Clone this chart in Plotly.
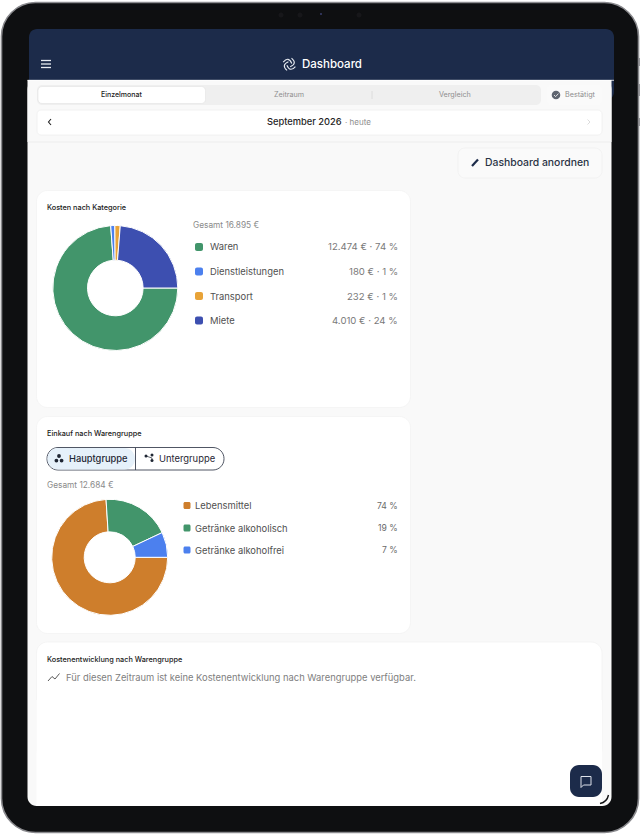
import math

import plotly.graph_objects as go

W = 640
H = 834

# chart data
kategorie_labels = ['Waren', 'Dienstleistungen', 'Transport', 'Miete']
kategorie_values = [12474, 180, 232, 4010]
kategorie_text = ['12.474 € · 74 %', '180 € · 1 %', '232 € · 1 %', '4.010 € · 24 %']
kategorie_colors = ['#42956B', '#4C80EE', '#E8A338', '#3D4FB0']
kategorie_total = 'Gesamt 16.895 €'

gruppe_labels = ['Lebensmittel', 'Getränke alkoholisch', 'Getränke alkoholfrei']
gruppe_values = [74, 19, 7]
gruppe_text = ['74 %', '19 %', '7 %']
gruppe_colors = ['#CE7E2C', '#42956B', '#4C80EE']
gruppe_total = 'Gesamt 12.684 €'

modus_labels = ['Einzelmonat', 'Zeitraum', 'Vergleich']

NAVY = '#1C2B4A'
FONT = 'Inter'


def fx(x):
    return x / W


def fy(y):
    return 1 - y / H


def pt(x, y):
    return f'{fx(x)},{fy(y)}'


def rounded(x0, y0, x1, y1, r, fill, line=None, width=1):
    # rounded box as a path, paper coordinates
    k = r * 0.45
    path = (
        f'M{pt(x0 + r, y0)} L{pt(x1 - r, y0)} C{pt(x1 - k, y0)} {pt(x1, y0 + k)} {pt(x1, y0 + r)} '
        f'L{pt(x1, y1 - r)} C{pt(x1, y1 - k)} {pt(x1 - k, y1)} {pt(x1 - r, y1)} '
        f'L{pt(x0 + r, y1)} C{pt(x0 + k, y1)} {pt(x0, y1 - k)} {pt(x0, y1 - r)} '
        f'L{pt(x0, y0 + r)} C{pt(x0, y0 + k)} {pt(x0 + k, y0)} {pt(x0 + r, y0)} Z'
    )
    return dict(type='path', xref='paper', yref='paper', path=path, fillcolor=fill, layer='below',
                line=dict(color=line if line else 'rgba(0,0,0,0)', width=width if line else 0))


def polyline(points, color, width=1.2, fill=None):
    path = 'M' + ' L'.join(pt(x, y) for x, y in points)
    if fill:
        path += ' Z'
    return dict(type='path', xref='paper', yref='paper', path=path, layer='below',
                fillcolor=fill if fill else 'rgba(0,0,0,0)', line=dict(color=color, width=width))


def curve(start, ctrl, end, color, width=1.1):
    path = f'M{pt(*start)} Q{pt(*ctrl)} {pt(*end)}'
    return dict(type='path', xref='paper', yref='paper', path=path, layer='below',
                fillcolor='rgba(0,0,0,0)', line=dict(color=color, width=width))


def dot(cx, cy, r, fill):
    return dict(type='circle', xref='paper', yref='paper', x0=fx(cx - r), x1=fx(cx + r),
                y0=fy(cy + r), y1=fy(cy - r), fillcolor=fill, layer='below', line=dict(width=0))


def label(x, y, text, size, color, anchor='left', weight=400):
    return dict(xref='paper', yref='paper', x=fx(x), y=fy(y), text=text, showarrow=False,
                xanchor=anchor, yanchor='middle', align=anchor, borderpad=0, borderwidth=0,
                font=dict(family=FONT, size=size, color=color, weight=weight))


def donut(values, labels, colors, cx, cy, r, hole):
    return go.Pie(values=values, labels=labels, sort=False, direction='clockwise', rotation=90,
                  hole=hole, textinfo='none', hoverinfo='label+percent', showlegend=False,
                  marker=dict(colors=colors, line=dict(color='#FFFFFF', width=1)),
                  domain=dict(x=[fx(cx - r), fx(cx + r)], y=[fy(cy + r), fy(cy - r)]))


shapes = []
notes = []

# tablet frame, side buttons first
for y0, y1 in [(58, 66), (84, 96), (118, 126)]:
    shapes.append(rounded(636, y0, 640, y1, 0, '#9A9A9E'))
shapes.append(rounded(1.5, 2.5, 638.5, 832.5, 34, '#0E0F11', '#8A8A8E', 1.6))
for cx, r in [(281, 2.5), (300, 2.5), (359, 2.5)]:
    shapes.append(dot(cx, 15, r, '#17171A'))
shapes.append(dot(321, 14, 1, '#3A3F6E'))

# screen and top bar
shapes.append(rounded(29, 29, 614, 100, 8, NAVY))
shapes.append(rounded(27.5, 80, 611.5, 806, 9, '#F9F9F9'))
shapes.append(rounded(27.5, 80, 611.5, 142, 0, '#F9F9F9'))
shapes.append(polyline([(27.5, 80.3), (614, 80.3)], '#FFFFFF', 0.8))
shapes.append(polyline([(28, 142), (611, 142)], '#EDEDED', 1))

# menu icon and logo
for y in [60.5, 64, 67.5]:
    shapes.append(polyline([(41, y), (51, y)], '#E8ECF2', 1.3))
for i in range(4):
    a = math.radians(i * 90 + 20)
    b = a + math.radians(65)
    c = a + math.radians(140)
    shapes.append(curve((289.3 + 6.5 * math.cos(a), 64.3 + 6.5 * math.sin(a)),
                        (289.3 + 8.4 * math.cos(b), 64.3 + 8.4 * math.sin(b)),
                        (289.3 + 2.6 * math.cos(c), 64.3 + 2.6 * math.sin(c)), '#E8ECF2'))
notes.append(label(302, 64, 'Dashboard', 11.5, '#FFFFFF', weight=500))

# period switch
shapes.append(rounded(37, 85, 541, 105, 5, '#EFEFEF'))
shapes.append(rounded(38, 86.5, 205.5, 103.5, 4, '#FFFFFF', '#E2E2E2', 0.6))
shapes.append(polyline([(372, 91), (372, 99)], '#D8D8D8', 0.8))
notes.append(label(122, 94.5, modus_labels[0], 7, '#222222', 'center', 500))
notes.append(label(288.5, 94.5, modus_labels[1], 7.2, '#8E8E8E', 'center'))
notes.append(label(455, 94.5, modus_labels[2], 7.2, '#8E8E8E', 'center'))
shapes.append(rounded(547, 85, 602, 105, 5, '#FAFAFA'))
shapes.append(dot(556, 95, 4.3, '#5F6570'))
shapes.append(polyline([(554, 95), (555.6, 96.6), (558.4, 93.6)], '#FFFFFF', 0.8))
notes.append(label(565, 94.5, 'Bestätigt', 7.2, '#8E8E8E'))

# month row
shapes.append(rounded(37, 110, 602, 135, 4, '#FFFFFF', '#EFEFEF', 0.8))
shapes.append(polyline([(51, 119), (48.5, 122), (51, 125)], '#222222', 1.1))
shapes.append(polyline([(587.5, 119.5), (590, 122), (587.5, 124.5)], '#D8D8D8', 0.9))
notes.append(label(266.5, 122, 'September 2026', 9.3, '#1F1F1F', weight=500))
notes.append(label(344.5, 122, '· heute', 8, '#8E8E8E'))

# arrange button
shapes.append(rounded(458, 148, 602, 178, 7, '#FAFAFA', '#F0F0F0', 0.8))
shapes.append(polyline([(472, 166), (478, 159.5)], NAVY, 2.2))
notes.append(label(485, 162, 'Dashboard anordnen', 10.4, '#2A3345', weight=500))

# cards
shapes.append(rounded(36.5, 190.5, 410.5, 407.5, 11, '#FFFFFF', '#F2F2F2', 0.8))
shapes.append(rounded(36.5, 416.5, 410.5, 633.5, 11, '#FFFFFF', '#F2F2F2', 0.8))
shapes.append(rounded(36.5, 642, 602, 760, 11, '#FFFFFF', '#F2F2F2', 0.8))
shapes.append(rounded(36.5, 700, 602, 806, 0, '#FFFFFF'))

# first card
notes.append(label(47, 207, 'Kosten nach Kategorie', 7.3, '#1A1A1A', weight=500))
notes.append(label(193, 225, kategorie_total, 8.3, '#8A8A8A'))
row_y = [247, 271.5, 296, 320.5]
for name, text, color, y in zip(kategorie_labels, kategorie_text, kategorie_colors, row_y):
    shapes.append(rounded(195, y - 4, 203, y + 4, 2, color))
    notes.append(label(210, y, name, 9.4, '#505050'))
    notes.append(label(398, y, text, 9.6, '#7A7A7A', 'right'))

# second card
notes.append(label(47, 433, 'Einkauf nach Warengruppe', 7.3, '#1A1A1A', weight=500))
shapes.append(rounded(47, 447.5, 224, 470, 11, '#FFFFFF', '#3C4352', 0.9))
shapes.append(rounded(47.5, 448, 135, 469.5, 10.5, '#E6F1FA'))
shapes.append(polyline([(135.5, 447.5), (135.5, 470)], '#3C4352', 0.9))
for cx, cy in [(59, 456), (56.4, 460.6), (61.6, 460.6)]:
    shapes.append(dot(cx, cy, 1.9, '#1F2633'))
for cx, cy in [(146, 456), (152, 455), (152, 460.5)]:
    shapes.append(dot(cx, cy, 1.5, '#1F2633'))
shapes.append(polyline([(146, 456), (152, 458), (152, 460)], '#1F2633', 0.7))
notes.append(label(68.5, 458.5, 'Hauptgruppe', 9.3, '#1F2633', weight=500))
notes.append(label(158.5, 458.5, 'Untergruppe', 9.4, '#1F2633'))
notes.append(label(47, 484.5, gruppe_total, 8.3, '#8A8A8A'))
row_y = [505.5, 528, 550]
for name, text, color, y in zip(gruppe_labels, gruppe_text, gruppe_colors, row_y):
    shapes.append(rounded(183.5, y - 3.5, 190.5, y + 3.5, 1.5, color))
    notes.append(label(195, y, name, 9.4, '#505050'))
    notes.append(label(398, y, text, 8.6, '#6A6A6A', 'right'))

# third card
notes.append(label(47, 659, 'Kostenentwicklung nach Warengruppe', 7.3, '#1A1A1A', weight=500))
shapes.append(polyline([(48, 681), (52, 676.5), (55, 679), (59.5, 673.5)], '#5A5A5A', 1))
notes.append(label(66, 677, 'Für diesen Zeitraum ist keine Kostenentwicklung nach Warengruppe verfügbar.', 9.4, '#808080'))

# chat button
shapes.append(rounded(570, 765, 602, 797, 9, NAVY))
shapes.append(polyline([(581, 776.5), (591, 776.5), (591, 785), (583.5, 785), (581, 787.5), (581, 776.5)], '#DDE2EA', 1))
shapes.append(curve((608.5, 795), (607, 802), (600, 803.5), '#111214', 1.4))

fig = go.Figure()
fig.add_trace(donut(kategorie_values, kategorie_labels, kategorie_colors, 115.3, 288, 62.5, 0.445))
fig.add_trace(donut(gruppe_values, gruppe_labels, gruppe_colors, 109.7, 557.3, 58, 0.44))

fig.update_layout(width=W, height=H, margin=dict(l=0, r=0, t=0, b=0), paper_bgcolor='#FFFFFF',
                  plot_bgcolor='#FFFFFF', shapes=shapes, annotations=notes, showlegend=False,
                  font=dict(family=FONT))

fig.write_html('out.html', config=dict(displayModeBar=False),
               post_script="document.body.style.margin='0';")
